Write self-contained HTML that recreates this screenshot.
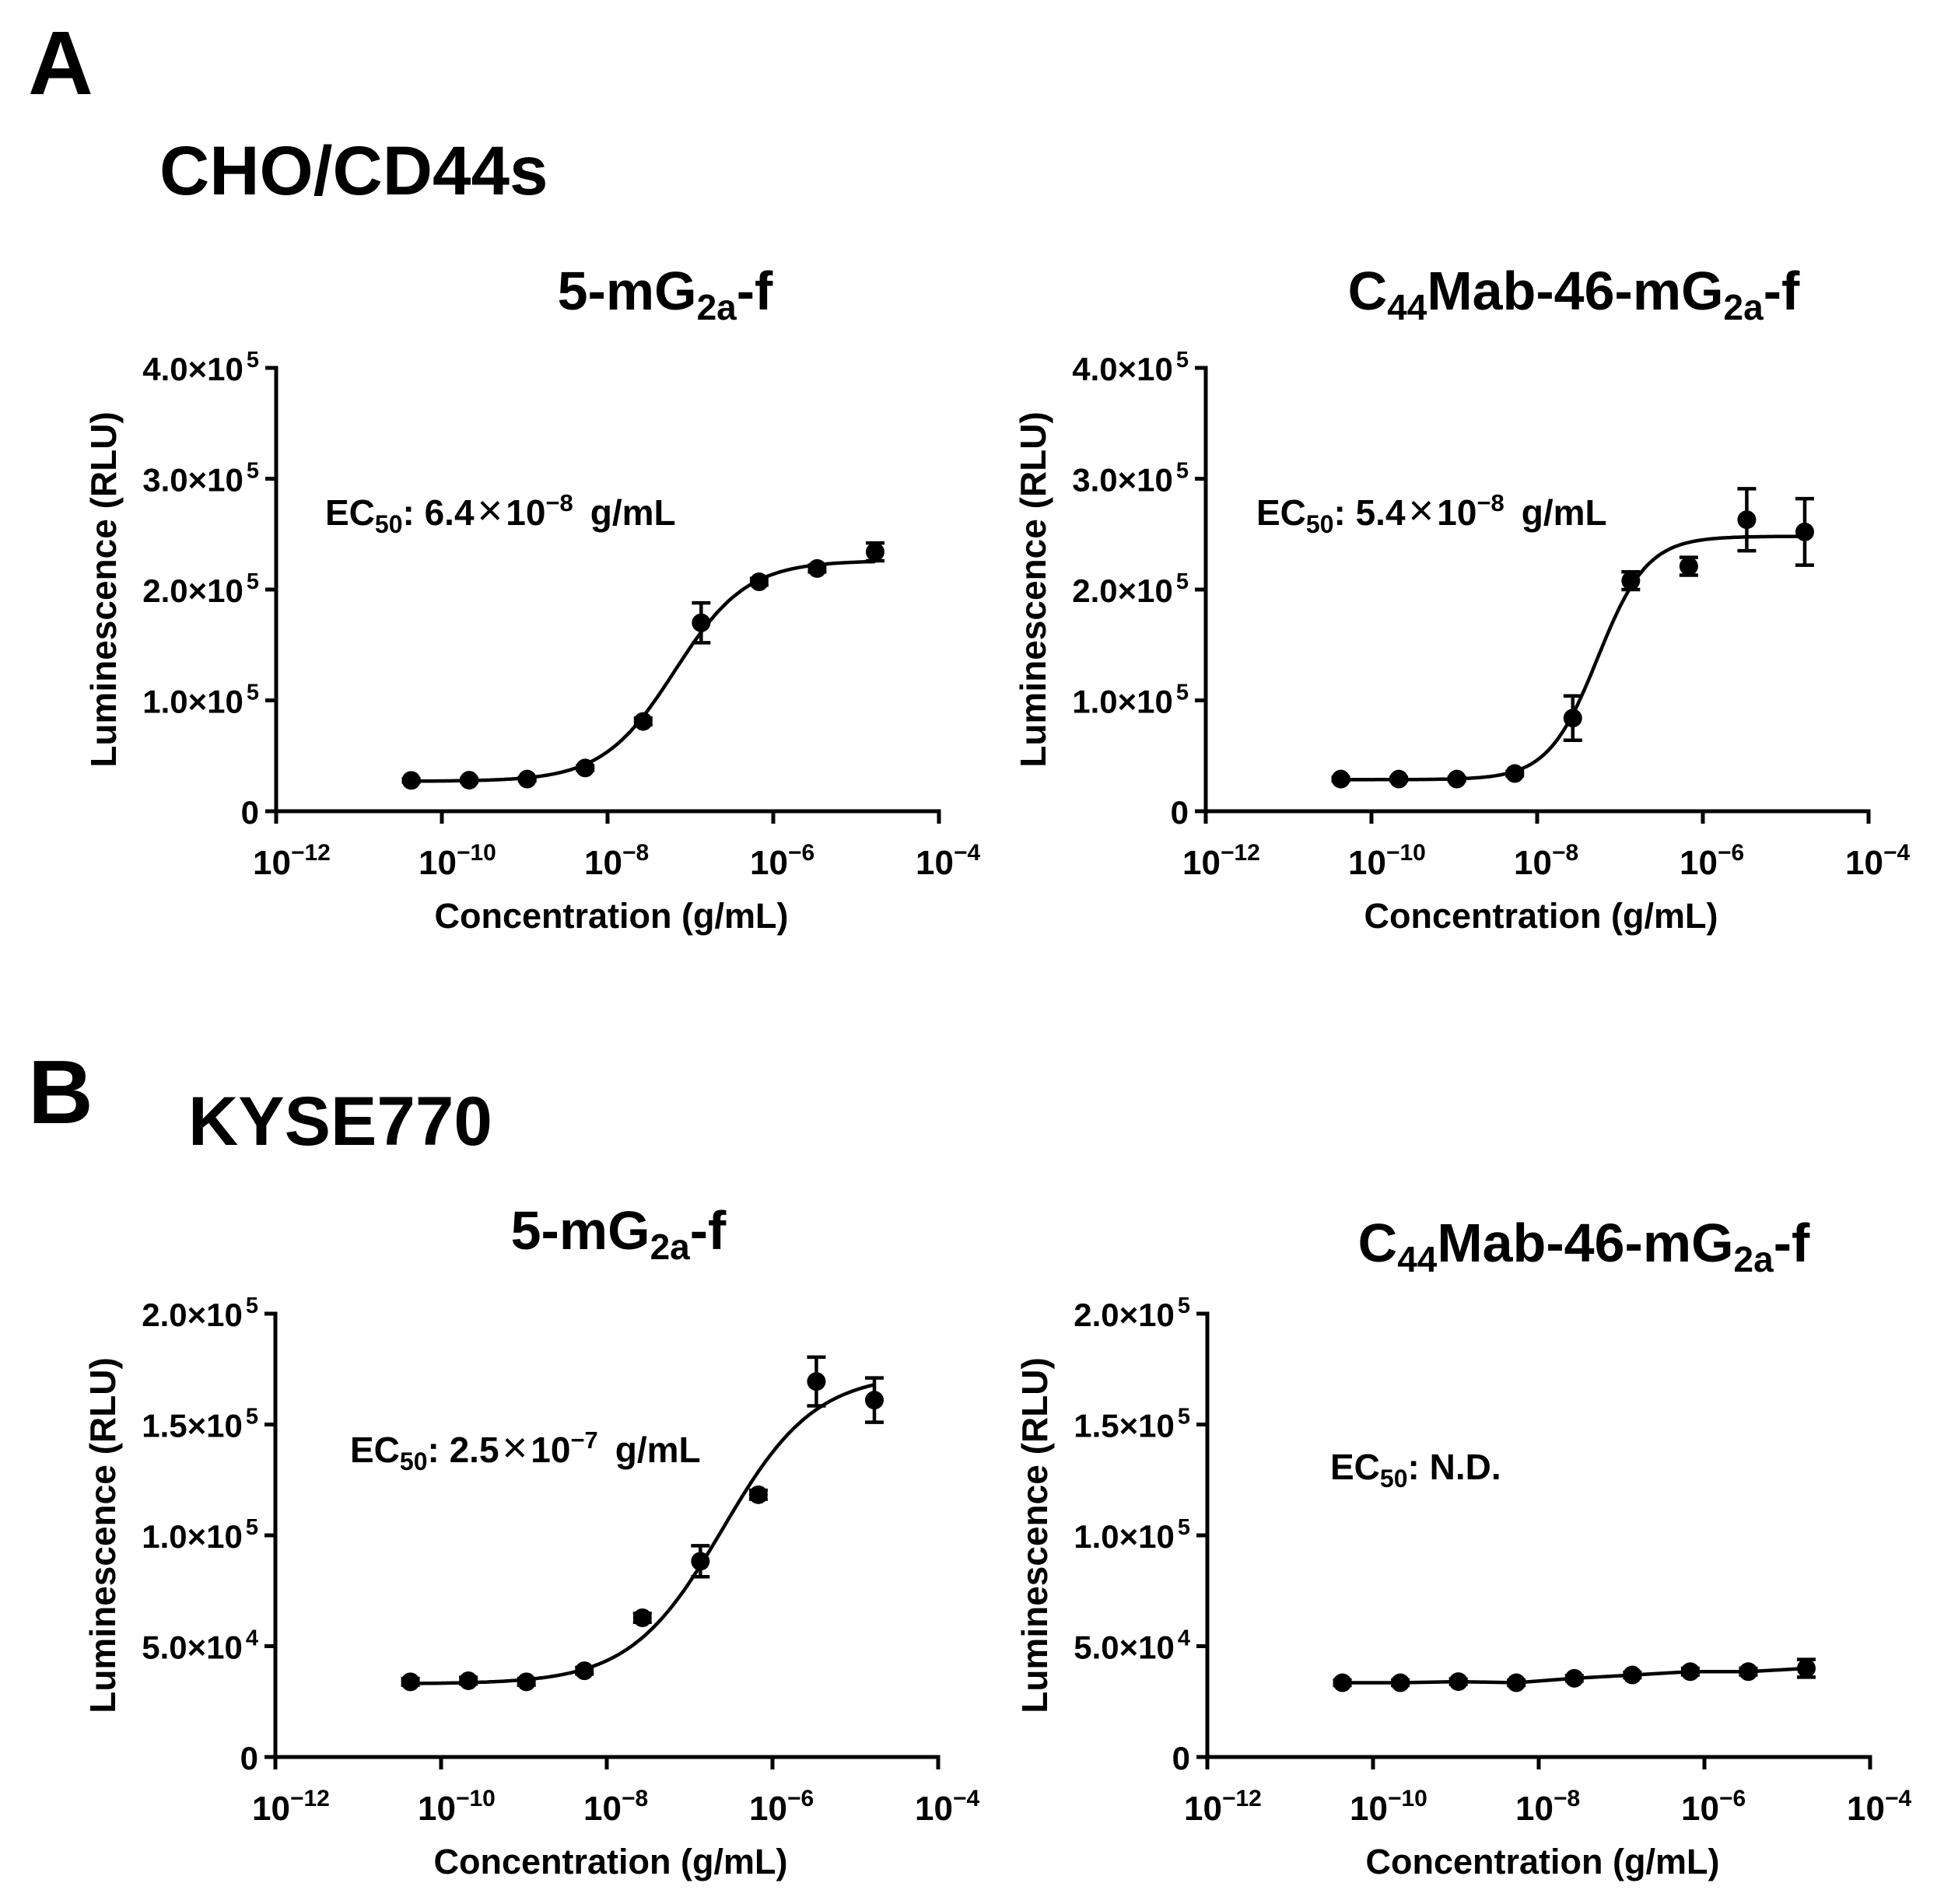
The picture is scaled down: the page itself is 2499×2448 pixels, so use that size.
<!DOCTYPE html>
<html><head><meta charset="utf-8"><style>
html,body{margin:0;padding:0;background:#fff;}
svg{display:block;}
text{font-family:"Liberation Sans",Arial,sans-serif;font-weight:bold;fill:#000;}
</style></head><body>
<svg id="fig" width="2499" height="2448" viewBox="0 0 2499 2448" xmlns="http://www.w3.org/2000/svg">
<text x="36" y="121" font-size="116">A</text>
<text x="205" y="250" font-size="89">CHO/CD44s</text>
<text x="36" y="1444" font-size="116">B</text>
<text x="242" y="1472" font-size="89">KYSE770</text>
</svg>
<script>
// ---- data (log10 concentration, g/mL) ----
const logConc = [-10.37, -9.67, -8.97, -8.27, -7.57, -6.87, -6.17, -5.47, -4.77];
// Panel A left: 5-mG2a-f on CHO/CD44s
const aLeftVals = [27800, 28000, 29000, 39000, 81000, 170000, 207000, 219000, 234000];
const aLeftErr  = [1500, 1500, 1500, 2000, 3000, 18000, 3000, 3000, 8000];
const aLeftFit  = [27000, 226000, -7.19, 1.0]; // bottom, top, logEC50, hill
// Panel A right: C44Mab-46-mG2a-f on CHO/CD44s
const aRightVals = [29000, 29000, 29000, 34000, 84000, 208000, 221000, 263000, 252000];
const aRightErr  = [1500, 1500, 1500, 2000, 20000, 8000, 8000, 28000, 30000];
const aRightFit  = [28500, 248000, -7.27, 1.45];
// Panel B left: 5-mG2a-f on KYSE770
const bLeftVals = [33900, 34400, 33900, 38900, 62800, 88300, 118300, 169400, 161000];
const bLeftErr  = [1500, 1500, 1500, 1500, 2000, 7000, 2000, 11000, 10000];
const bLeftFit  = [33000, 173000, -6.6, 0.78];
// Panel B right: C44Mab-46-mG2a-f on KYSE770
const bRightVals = [33500, 33500, 34000, 33500, 35500, 37000, 38500, 38500, 40000];
const bRightErr  = [1200, 1200, 1200, 1200, 1200, 1200, 1500, 1500, 4000];
// ticks
const xTickExps = ["−12", "−10", "−8", "−6", "−4"];
const xTickVals = [-12, -10, -8, -6, -4];
const yTicksA = [0, 100000, 200000, 300000, 400000];
const yTickLabelsA = [["0",""], ["1.0×10","5"], ["2.0×10","5"], ["3.0×10","5"], ["4.0×10","5"]];
const yTicksB = [0, 50000, 100000, 150000, 200000];
const yTickLabelsB = [["0",""], ["5.0×10","4"], ["1.0×10","5"], ["1.5×10","5"], ["2.0×10","5"]];

const NS = "http://www.w3.org/2000/svg";
const svg = document.getElementById('fig');
function mk(tag, attrs, parent) {
  const e = document.createElementNS(NS, tag);
  for (const k in attrs) e.setAttribute(k, attrs[k]);
  (parent || svg).appendChild(e);
  return e;
}

function panel(cfg) {
  const g = mk('g', {});
  
  
  const x0 = cfg.x0, x1 = cfg.x0 + 852, yB = cfg.yB, yT = cfg.yB - 570;
  const xs = v => x0 + (v - (-12)) / 8 * (x1 - x0);
  const ys = v => yB - v / cfg.yMax * (yB - yT);

  const t = mk('text', {x: cfg.titleX, y: cfg.titleY, 'font-size': 70, 'text-anchor': 'middle'}, g);
  
  
  t.innerHTML = cfg.titleHTML;

  const ax = mk('path', {d: `M${x0},${yT} V${yB} H${x1}`, stroke: '#000', 'stroke-width': 5, fill: 'none', 'stroke-linecap': 'square'}, g);
  
  

  cfg.yTicks.forEach((v, i) => {
    const y = ys(v);
    const tk = mk('line', {x1: x0 - 14, x2: x0, y1: y, y2: y, stroke: '#000', 'stroke-width': 5}, g);
    
    
    const lb = mk('text', {x: x0 - 22, y: y + 16, 'font-size': 42, 'text-anchor': 'end'}, g);
    
    
    const L = cfg.yLabels[i];
    lb.innerHTML = L[1] ? `${L[0]}<tspan dx="4" dy="-17" font-size="29">${L[1]}</tspan>` : L[0];
  });
  xTickVals.forEach((v, i) => {
    const x = xs(v);
    const tk = mk('line', {x1: x, x2: x, y1: yB, y2: yB + 16, stroke: '#000', 'stroke-width': 5}, g);
    
    
    const lb = mk('text', {x: x - 30, y: yB + 81, 'font-size': 44}, g);
    
    
    lb.innerHTML = `10<tspan dy="-18" font-size="30">${xTickExps[i]}</tspan>`;
  });
  const xt = mk('text', {x: (x0 + x1) / 2 + 5, y: yB + 150, 'font-size': 45, 'text-anchor': 'middle'}, g);
  
  
  xt.textContent = 'Concentration (g/mL)';
  const yc = (yB + yT) / 2;
  const yt = mk('text', {x: 0, y: 0, 'font-size': 46, 'text-anchor': 'middle', transform: `translate(${x0 - 206},${yc}) rotate(-90)`}, g);
  
  
  yt.textContent = 'Luminescence (RLU)';

  const ec = mk('text', {x: cfg.ecX, y: cfg.ecY, 'font-size': 46}, g);
  
  
  ec.innerHTML = cfg.ecHTML;

  let d = '';
  if (cfg.fit) {
    const [bot, top, lec, hill] = cfg.fit;
    const lo = logConc[0], hi = logConc[logConc.length - 1];
    for (let k = 0; k <= 200; k++) {
      const lx = lo + (hi - lo) * k / 200;
      const yv = bot + (top - bot) / (1 + Math.pow(10, (lec - lx) * hill));
      d += (k ? 'L' : 'M') + xs(lx).toFixed(1) + ',' + ys(yv).toFixed(1);
    }
  } else {
    cfg.vals.forEach((v, i) => { d += (i ? 'L' : 'M') + xs(logConc[i]).toFixed(1) + ',' + ys(v).toFixed(1); });
  }
  const c = mk('path', {d: d, stroke: '#000', 'stroke-width': 4.5, fill: 'none'}, g);
  
  

  cfg.vals.forEach((v, i) => {
    const x = xs(logConc[i]), y = ys(v);
    const e = cfg.err[i];
    const yh = ys(v + e), yl = ys(v - e);
    const eb = mk('path', {d: `M${x},${yh}V${yl}M${x - 12},${yh}H${x + 12}M${x - 12},${yl}H${x + 12}`, stroke: '#000', 'stroke-width': 4.5, fill: 'none'}, g);
    
    
    const p = mk('circle', {cx: x, cy: y, r: 12, fill: '#000'}, g);
    
    
  });
}

const t1 = '5-mG<tspan dy="13" font-size="46">2a</tspan><tspan dy="-13">-f</tspan>';
const t2 = 'C<tspan dy="13" font-size="46">44</tspan><tspan dy="-13">Mab-46-mG</tspan><tspan dy="13" font-size="46">2a</tspan><tspan dy="-13">-f</tspan>';
const ecT = (m, e) => `EC<tspan dy="10" font-size="32">50</tspan><tspan dy="-10">: ${m}</tspan><tspan font-weight="normal" font-size="56" dx="4">×</tspan><tspan dx="4">10</tspan><tspan dy="-18" font-size="31">${e}</tspan><tspan dy="18" dx="22">g/mL</tspan>`;

panel({name: 'panel-a-left-chart', x0: 355, yB: 1043, yMax: 400000, yTicks: yTicksA, yLabels: yTickLabelsA,
  titleX: 855, titleY: 398, titleHTML: t1, ecX: 418, ecY: 675, ecHTML: ecT('6.4', '−8'),
  vals: aLeftVals, err: aLeftErr, fit: aLeftFit});
panel({name: 'panel-a-right-chart', x0: 1550, yB: 1043, yMax: 400000, yTicks: yTicksA, yLabels: yTickLabelsA,
  titleX: 2023, titleY: 398, titleHTML: t2, ecX: 1615, ecY: 675, ecHTML: ecT('5.4', '−8'),
  vals: aRightVals, err: aRightErr, fit: aRightFit});
panel({name: 'panel-b-left-chart', x0: 354, yB: 2259, yMax: 200000, yTicks: yTicksB, yLabels: yTickLabelsB,
  titleX: 795, titleY: 1606, titleHTML: t1, ecX: 450, ecY: 1880, ecHTML: ecT('2.5', '−7'),
  vals: bLeftVals, err: bLeftErr, fit: bLeftFit});
panel({name: 'panel-b-right-chart', x0: 1552, yB: 2259, yMax: 200000, yTicks: yTicksB, yLabels: yTickLabelsB,
  titleX: 2036, titleY: 1622, titleHTML: t2, ecX: 1710, ecY: 1902,
  ecHTML: 'EC<tspan dy="10" font-size="32">50</tspan><tspan dy="-10">: N.D.</tspan>',
  vals: bRightVals, err: bRightErr, fit: null});
</script>
</body></html>
